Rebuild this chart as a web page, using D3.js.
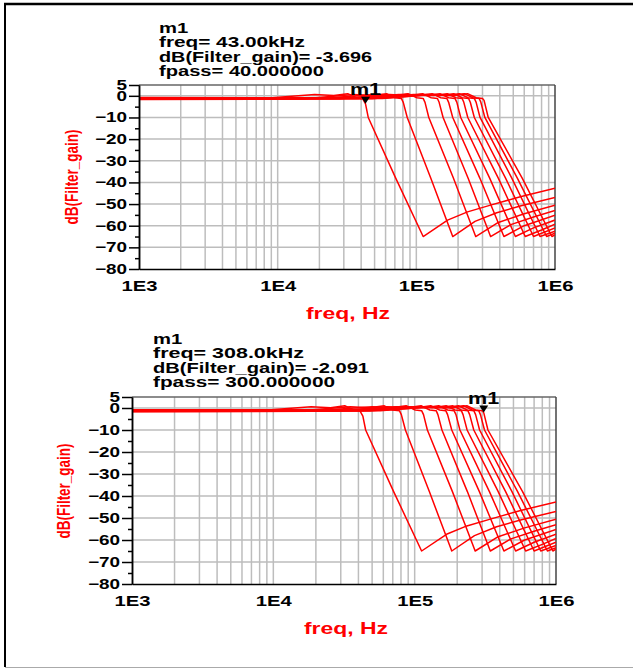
<!DOCTYPE html>
<html>
<head>
<meta charset="utf-8">
<script src="https://cdn.jsdelivr.net/npm/d3@7"></script>
<style>
body{margin:0;background:#fff;}
svg{display:block;font-family:"Liberation Sans",Arial,sans-serif;font-weight:bold;}
.grid line{stroke:#bdbdbd;stroke-width:1.5;}
.axis path,.axis line{stroke:#000;stroke-width:1.5;}
.curve{fill:none;stroke:#ff0000;stroke-width:1.5;stroke-linejoin:round;}
</style>
</head>
<body>
<script>
// one response per fpass step, [freq Hz, dB]
var c40k  = [[1e3,-1.2],[8.2e3,-1.1],[18.5e3,0.6],[25.4e3,0.1],[32e3,1.0],[36.9e3,-0.9],[41e3,-1.3],[43e3,-3.7],[45e3,-10],[71e3,-38],[112e3,-65],[168e3,-57.4],[234e3,-53.6],[343e3,-50.5],[562e3,-46.6],[1e6,-42.7]];
var c75k  = [[1e3,-1.5],[15.6e3,-1.3],[35e3,0.6],[48e3,0.1],[61e3,1.0],[70e3,-0.9],[78e3,-1.2],[80.5e3,-3],[86e3,-10],[127e3,-38],[183e3,-65],[265e3,-58],[380e3,-54],[570e3,-50.8],[1e6,-47]];
var c105k = [[1e3,-0.9],[22.4e3,-1.0],[50e3,0.6],[69e3,0.1],[87e3,1.0],[101e3,-0.9],[112e3,-1.2],[115.5e3,-3],[123e3,-10],[185e3,-38],[268e3,-65],[390e3,-58.5],[600e3,-54.5],[1e6,-50.5]];
var c135k = [[1e3,-1.6],[28e3,-1.4],[64e3,0.6],[88e3,0.1],[111e3,1.0],[128e3,-0.9],[142e3,-1.2],[146e3,-3],[156e3,-10],[236e3,-38],[343e3,-65],[480e3,-59.5],[700e3,-56],[1e6,-53]];
var c160k = [[1e3,-1.0],[33e3,-1.0],[75e3,0.6],[103e3,0.1],[130e3,1.0],[150e3,-0.9],[166e3,-1.2],[171e3,-3],[183e3,-10],[287e3,-38],[428e3,-65],[600e3,-60],[1e6,-55.2]];
var c185k = [[1e3,-1.4],[38e3,-1.2],[85e3,0.6],[118e3,0.1],[148e3,1.0],[171e3,-0.9],[190e3,-1.2],[196e3,-3],[209e3,-10],[338e3,-38],[518e3,-65],[700e3,-61],[1e6,-57.4]];
var c210k = [[1e3,-1.2],[43e3,-1.1],[96e3,0.6],[133e3,0.1],[167e3,1.0],[193e3,-0.9],[214e3,-1.2],[220e3,-3],[235e3,-10],[390e3,-38],[610e3,-65],[800e3,-62],[1e6,-59.3]];
var c235k = [[1e3,-1.7],[48e3,-1.4],[107e3,0.6],[148e3,0.1],[186e3,1.0],[214e3,-0.9],[238e3,-1.2],[245e3,-3],[262e3,-10],[440e3,-38],[700e3,-65],[1e6,-61]];
var c260k = [[1e3,-0.8],[52e3,-0.9],[118e3,0.6],[162e3,0.1],[204e3,1.0],[236e3,-0.9],[262e3,-1.2],[270e3,-3],[288e3,-10],[488e3,-38],[780e3,-65],[1e6,-62.5]];
var c280k = [[1e3,-1.3],[57e3,-1.2],[128e3,0.6],[176e3,0.1],[222e3,1.0],[256e3,-0.9],[284e3,-1.2],[292e3,-3],[312e3,-10],[535e3,-38],[870e3,-65],[1e6,-63.5]];
var c300k = [[1e3,-1.1],[60e3,-1.0],[135e3,0.6],[186e3,0.1],[234e3,1.0],[270e3,-0.9],[300e3,-1.2],[308e3,-2.1],[330e3,-10],[580e3,-38],[950e3,-65],[1e6,-64.2]];
var curves = [c40k,c75k,c105k,c135k,c160k,c185k,c210k,c235k,c260k,c280k,c300k];

var markerFreq = [43e3, 308e3];
var markerGain = [-3.696, -2.091];
var headerTop = ['m1','freq= 43.00kHz','dB(Filter_gain)= -3.696','fpass= 40.000000'];
var headerBottom = ['m1','freq= 308.0kHz','dB(Filter_gain)= -2.091','fpass= 300.000000'];
var yTicks = [5,0,-10,-20,-30,-40,-50,-60,-70,-80];
var yMinor = [-5,-15,-25,-35,-45,-55,-65,-75];
var xTicks = [1e3,1e4,1e5,1e6];
var xTickLabels = ['1E3','1E4','1E5','1E6'];

var W = 633, H = 669;
var sx = 1.35; // the export is stretched sideways, text included

var svg = d3.select('body').append('svg')
            .attr('width', W)
            .attr('height', H)

// outer frame
svg.append('line').attr('x1',4).attr('x2',W).attr('y1',4).attr('y2',4).attr('stroke','#000').attr('stroke-width',2.5)
svg.append('line').attr('x1',5).attr('x2',5).attr('y1',4).attr('y2',667).attr('stroke','#000').attr('stroke-width',2)
svg.append('line').attr('x1',5).attr('x2',W).attr('y1',667.5).attr('y2',667.5).attr('stroke','#aaa').attr('stroke-width',1)

function wideText(g, x, y, str, size){
  return g.append('text')
          .attr('transform','translate(' + x + ',' + y + ') scale(' + sx + ',1)')
          .style('font-size', size + 'px')
          .text(str)
}

function plotPanel(p){
  var x = d3.scaleLog().domain([1e3,1e6]).range([p.left, p.right])
  var y = d3.scaleLinear().domain([-80,5]).range([p.bottom, p.top])
  var g = svg.append('g')

  // grid
  var grid = g.append('g').classed('grid', true)
  grid.selectAll('.v')
      .data(x.ticks().filter(function(d){ return d > 1e3 && d < 1e6 }))
      .enter().append('line')
      .attr('x1', function(d){ return x(d) }).attr('x2', function(d){ return x(d) })
      .attr('y1', p.top).attr('y2', p.bottom)
  grid.selectAll('.h')
      .data(yTicks.filter(function(d){ return d > -80 && d < 5 }))
      .enter().append('line')
      .attr('y1', function(d){ return y(d) }).attr('y2', function(d){ return y(d) })
      .attr('x1', p.left).attr('x2', p.right)

  // frame top / right
  g.append('line').attr('x1',p.left).attr('x2',p.right).attr('y1',p.top).attr('y2',p.top)
   .attr('stroke','#666').attr('stroke-width',1.5)
  g.append('line').attr('x1',p.right).attr('x2',p.right).attr('y1',p.top).attr('y2',p.bottom)
   .attr('stroke','#444').attr('stroke-width',1.5)

  // curves
  var clipId = 'clip' + p.id
  g.append('clipPath').attr('id', clipId).append('rect')
   .attr('x', p.left).attr('y', p.top - 2).attr('width', p.right - p.left).attr('height', p.bottom - p.top + 2)
  var line = d3.line()
               .x(function(d){ return x(d[0]) })
               .y(function(d){ return y(d[1]) })
  g.append('g').attr('clip-path','url(#' + clipId + ')')
   .selectAll('.curve')
   .data(curves)
   .enter().append('path')
   .classed('curve', true)
   .attr('d', line)

  // axes
  var yAxis = d3.axisLeft(y).tickValues(yTicks).tickSize(10).tickSizeOuter(0).tickPadding(2)
  var yMin = d3.axisLeft(y).tickValues(yMinor).tickSize(4).tickSizeOuter(0).tickFormat('')
  var xAxis = d3.axisBottom(x).tickValues(xTicks).tickSize(0).tickSizeOuter(0).tickPadding(11)
                .tickFormat(function(d, i){ return xTickLabels[i] })

  g.append('g').classed('axis', true).attr('transform','translate(' + p.left + ',0)').call(yMin)
  var ya = g.append('g').classed('axis', true).attr('transform','translate(' + p.left + ',0)').call(yAxis)
  var xa = g.append('g').classed('axis', true).attr('transform','translate(0,' + p.bottom + ')').call(xAxis)
  g.selectAll('.axis text').style('font-family','inherit').style('font-weight','bold')
  ya.selectAll('text').style('font-size','14px').attr('fill','#000')
    .attr('transform', function(){ return 'translate(' + this.getAttribute('x') + ',0) scale(' + sx + ',1)' })
    .attr('x', 0)
  xa.selectAll('text').style('font-size','15px').attr('fill','#000')
    .attr('transform','scale(' + sx + ',1)')

  // axis titles
  wideText(g, p.xLabelX, p.xLabelY, 'freq, Hz', 17).attr('fill','#ff0000').attr('text-anchor','middle')
  g.append('text')
   .attr('transform','translate(' + p.yLabelX + ',' + p.yLabelY + ') scale(' + sx + ',1) rotate(-90)')
   .attr('text-anchor','middle').attr('dy','0.35em')
   .style('font-size','13.5px').attr('fill','#ff0000')
   .text('dB(Filter_gain)')

  // marker readout
  p.header.forEach(function(s, i){
    var t = wideText(g, p.hdrX, p.hdrY + i * 14.4, s, 15).attr('fill','#000')
    if (p.hdrW[i]) t.attr('textLength', p.hdrW[i] / sx).attr('lengthAdjust','spacingAndGlyphs')
  })
  var mx = x(markerFreq[p.id]), my = y(markerGain[p.id])
  g.append('path')
   .attr('d','M' + (mx - 4.5) + ',' + (my - 7) + 'L' + (mx + 4.5) + ',' + (my - 7) + 'L' + mx + ',' + my + 'Z')
   .attr('fill','#000')
  wideText(g, mx, my - 8.5, 'm1', 16).attr('text-anchor','middle').attr('fill','#000')
}

plotPanel({id:0, left:139, right:555, top:85, bottom:269, header:headerTop, hdrW:[0,146,213,165],
           hdrX:159, hdrY:33, xLabelX:348, xLabelY:319, yLabelX:72, yLabelY:177})
plotPanel({id:1, left:132, right:556, top:397, bottom:584, header:headerBottom, hdrW:[0,151,216,182],
           hdrX:153, hdrY:344, xLabelX:346, xLabelY:634, yLabelX:64, yLabelY:491})
</script>
</body>
</html>
